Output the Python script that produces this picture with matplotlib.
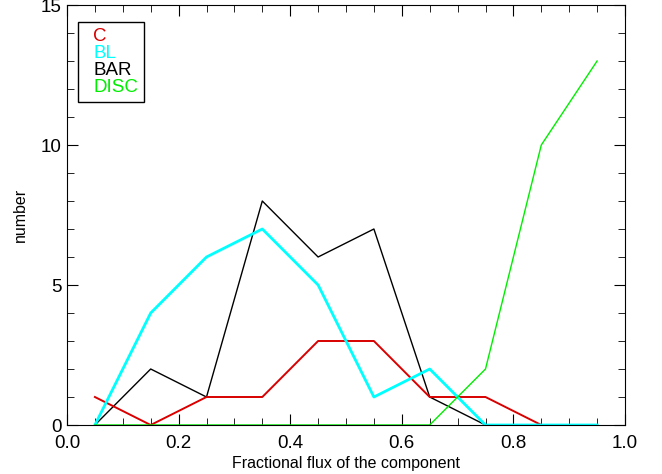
import matplotlib
matplotlib.use("Agg")
import matplotlib.pyplot as plt
from matplotlib.ticker import MultipleLocator

plt.rcParams["font.family"] = ["Liberation Sans", "DejaVu Sans"]

x = [0.05, 0.15, 0.25, 0.35, 0.45, 0.55, 0.65, 0.75, 0.85, 0.95]
c_vals = [1, 0, 1, 1, 3, 3, 1, 1, 0, 0]
bl_vals = [0, 4, 6, 7, 5, 1, 2, 0, 0, 0]
bar_vals = [0, 2, 1, 8, 6, 7, 1, 0, 0, 0]
disc_vals = [0, 0, 0, 0, 0, 0, 0, 2, 10, 13]

fig = plt.figure(figsize=(6.62, 4.74), dpi=100)
ax = fig.add_axes([67 / 662, 49 / 474, 558 / 662, 420 / 474])

ax.plot(x, bar_vals, color="black", lw=1.0, label="BAR")
ax.plot(x, c_vals, color="#d80000", lw=1.4, label="C")
ax.plot(x, bl_vals, color="cyan", lw=2.0, label="BL")
ax.plot(x, disc_vals, color="#00ee00", lw=1.0, label="DISC")

ax.set_xlim(0, 1.0)
ax.set_ylim(0, 15)
ax.xaxis.set_major_locator(MultipleLocator(0.2))
ax.xaxis.set_minor_locator(MultipleLocator(0.05))
ax.yaxis.set_major_locator(MultipleLocator(5))
ax.yaxis.set_minor_locator(MultipleLocator(1))
ax.tick_params(which="both", direction="in", top=True, right=True, labelsize=13.5)
ax.tick_params(which="major", length=8)
ax.tick_params(which="minor", length=5)
ax.tick_params(axis="x", pad=7)
ax.tick_params(axis="y", pad=4)
ax.xaxis.set_major_formatter(plt.FormatStrFormatter("%.1f"))

ax.set_xlabel("Fractional flux of the component", fontsize=11.5)
ax.set_ylabel("number", fontsize=11.5)
ax.xaxis.set_label_coords(0.5, -31 / 420, transform=ax.transAxes)
ax.yaxis.set_label_coords(-39 / 558, 0.5, transform=ax.transAxes)

handles, labels = ax.get_legend_handles_labels()
order = [1, 2, 0, 3]
leg = ax.legend([handles[i] for i in order], [labels[i] for i in order],
                loc="upper left", bbox_to_anchor=(0.02, 0.96),
                handlelength=0, handletextpad=0.5, labelcolor="linecolor",
                fancybox=False, edgecolor="black", framealpha=1,
                fontsize=13.5, borderpad=0.3, labelspacing=0.0, borderaxespad=0)
for h in leg.legend_handles:
    h.set_visible(False)
leg.get_frame().set_linewidth(1.0)

fig.savefig("out.png", dpi=100)
